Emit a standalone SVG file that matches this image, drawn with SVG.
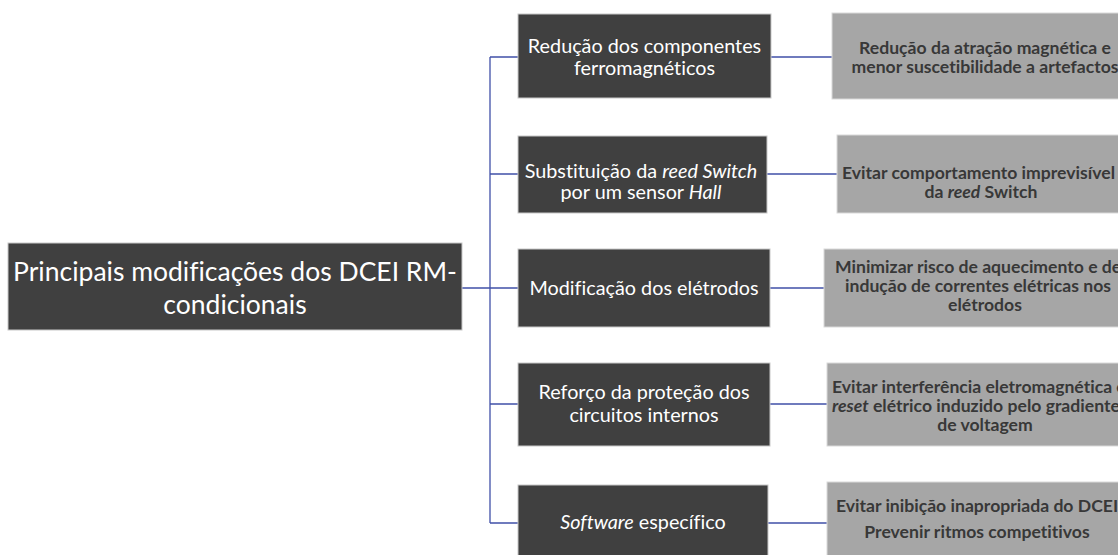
<svg xmlns="http://www.w3.org/2000/svg" width="1118" height="555" viewBox="0 0 1118 555">
<style>
text{font-variant-ligatures:none}
.dark{fill:#404040;stroke:#c8c8c8;stroke-width:1}
.gray{fill:#a6a6a6;stroke:#d9d9d9;stroke-width:1}
.wt{fill:#ffffff;font-family:Lato,"Open Sans",sans-serif;font-size:19.8px;text-anchor:middle}
.root{fill:#ffffff;font-family:Lato,"Open Sans",sans-serif;font-size:26.5px;text-anchor:middle}
.gt{fill:#383838;font-family:Lato,"Open Sans",sans-serif;font-size:17.6px;font-weight:bold;text-anchor:middle}
.st{text-anchor:start}
.it{font-style:italic}
.con{fill:none;stroke:#4050a8;stroke-width:1.3}
</style>
<rect width="1118" height="555" fill="#ffffff"/>
<g id="connectors">
<path class="con" d="M462 288H490M490 57V523M490 57H518M490 174H518M490 288H518M490 404H518M490 523H518"/>
<path class="con" d="M771 57H832M767 174H837M770 288H824M770 404H827M768 523H827"/>
</g>
<g id="root">
<rect class="dark" x="8" y="243" width="454" height="87"/>
<text class="root" x="235" y="281">Principais modificações dos DCEI RM-</text>
<text class="root" x="235" y="314">condicionais</text>
</g>
<g id="m1">
<rect class="dark" x="518" y="14" width="253" height="84"/>
<text class="wt" x="644.5" y="53">Redução dos componentes</text>
<text class="wt" x="644.5" y="75">ferromagnéticos</text>
</g>
<g id="m2">
<rect class="dark" x="518" y="136" width="249" height="77"/>
<text class="wt" x="641" y="178">Substituição da <tspan class="it">reed Switch</tspan></text>
<text class="wt" x="641" y="199">por um sensor <tspan class="it">Hall</tspan></text>
</g>
<g id="m3">
<rect class="dark" x="518" y="249" width="252" height="78"/>
<text class="wt" x="644" y="295">Modificação dos elétrodos</text>
</g>
<g id="m4">
<rect class="dark" x="518" y="363" width="252" height="83"/>
<text class="wt" x="644" y="399">Reforço da proteção dos</text>
<text class="wt" x="644" y="422">circuitos internos</text>
</g>
<g id="m5">
<rect class="dark" x="518" y="485" width="250" height="75"/>
<text class="wt" x="643" y="529"><tspan class="it">Software</tspan> específico</text>
</g>
<g id="r1">
<rect class="gray" x="832" y="13" width="306" height="86"/>
<text class="gt" x="985" y="54">Redução da atração magnética e</text>
<text class="gt" x="985" y="73">menor suscetibilidade a artefactos</text>
</g>
<g id="r2">
<rect class="gray" x="837" y="135" width="296" height="78"/>
<text class="gt st" x="842" y="179">Evitar comportamento imprevisível</text>
<text class="gt" x="981" y="198">da <tspan class="it">reed</tspan> Switch</text>
</g>
<g id="r3">
<rect class="gray" x="824" y="249" width="322" height="78"/>
<text class="gt st" x="835" y="273">Minimizar risco de aquecimento e de</text>
<text class="gt st" x="845" y="292">indução de correntes elétricas nos</text>
<text class="gt" x="985" y="311">elétrodos</text>
</g>
<g id="r4">
<rect class="gray" x="827" y="363" width="316" height="83"/>
<text class="gt st" x="832" y="393">Evitar interferência eletromagnética e</text>
<text class="gt st" x="832" y="412"><tspan class="it">reset</tspan> elétrico induzido pelo gradiente</text>
<text class="gt" x="985" y="431">de voltagem</text>
</g>
<g id="r5">
<rect class="gray" x="827" y="482" width="316" height="80"/>
<text class="gt" x="977" y="512">Evitar inibição inapropriada do DCEI</text>
<text class="gt" x="977" y="538">Prevenir ritmos competitivos</text>
</g>
</svg>
